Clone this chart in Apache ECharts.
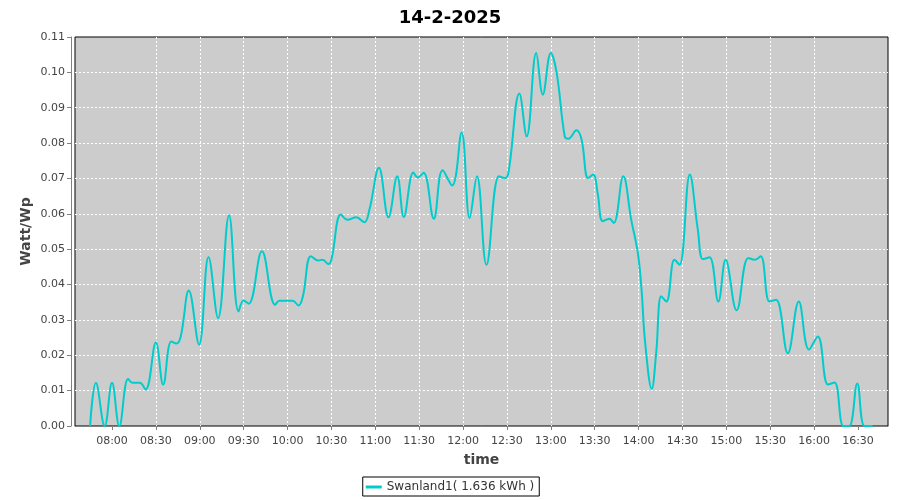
<!DOCTYPE html>
<html><head><meta charset="utf-8">
<script src="https://cdn.jsdelivr.net/npm/echarts@6/dist/echarts.min.js"></script>
<style>html,body{margin:0;padding:0;background:#fff}#c{width:900px;height:500px}</style>
</head><body><div id="c"></div>
<script>
// minutes after midnight
const times = [465,469,475,480,485,491,494,499,503,510,515,520.5,524,527,532.5,539.5,546,552.5,560,566.5,570,573.5,582.5,591.5,594.5,603.5,607.5,610.5,616,621,624,628,630,636.5,641,647,652.5,656,662.5,669,675,679.5,686,689,693,700,706,712.5,719,724.5,729.5,736,744.5,748.5,751,758.5,763.5,770,774.5,780,784,789.5,792,797.5,801,805.5,809,812,815.5,820,823,829.5,835,839.5,842,844.5,849,852,855.5,859,864.5,868,875,880.5,884,888.5,894.5,899.5,907,915,919.5,923.5,929.5,934,942,949.5,956.5,962.5,969.5,974,980,984,989.5,994.5,1000];
const values = [0,0.0122,0,0.0122,0,0.0133,0.0122,0.0122,0.0103,0.0236,0.0117,0.0239,0.0233,0.0253,0.0383,0.0230,0.0478,0.0305,0.0596,0.0324,0.0355,0.0346,0.0494,0.0343,0.0354,0.0354,0.0341,0.0367,0.0480,0.0468,0.0470,0.0458,0.0470,0.0598,0.0583,0.0590,0.0576,0.0612,0.0730,0.0590,0.0706,0.0591,0.0717,0.0703,0.0716,0.0586,0.0723,0.0680,0.0830,0.0588,0.0706,0.0456,0.0706,0.0701,0.0716,0.0940,0.0819,0.1055,0.0937,0.1055,0.0998,0.0819,0.0812,0.0836,0.0810,0.0701,0.0711,0.0659,0.0579,0.0586,0.0574,0.0706,0.0582,0.0489,0.0386,0.0235,0.0105,0.0206,0.0367,0.0352,0.0470,0.0456,0.0711,0.0555,0.0472,0.0477,0.0352,0.0470,0.0327,0.0475,0.0470,0.0480,0.0352,0.0357,0.0206,0.0352,0.0216,0.0253,0.0117,0.0123,0,0,0.0120,0,0];
const tickLabels = ['08:00','08:30','09:00','09:30','10:00','10:30','11:00','11:30','12:00','12:30','13:00','13:30','14:00','14:30','15:00','15:30','16:00','16:30'];
const seriesName = 'Swanland1( 1.636 kWh )';
const titleText = '14-2-2025';

const toMin = s => { const [h,m] = s.split(':').map(Number); return h*60+m; };
const pad = n => (n<10?'0':'')+n;
const fmt = v => pad(Math.floor(v/60))+':'+pad(Math.round(v%60));
const tickMins = tickLabels.map(toMin);
const data = times.map((t,i)=>[t, values[i]]);
const font = 'DejaVu Sans';

const chart = echarts.init(document.getElementById('c'), null, {renderer:'canvas'});
chart.setOption({
  animation:false,
  backgroundColor:'#ffffff',
  title:{text:titleText,left:'center',top:4,textStyle:{fontFamily:font,fontSize:18,fontWeight:'bold',color:'#000'}},
  grid:{left:75,top:37,right:12,bottom:74,show:true,backgroundColor:'#cccccc',borderColor:'#000',borderWidth:1},
  legend:{data:[{name:seriesName,icon:'rect'}],left:'center',top:477,itemWidth:16,itemHeight:3,itemGap:4,
    padding:[4,5,3,3],borderColor:'#000',borderWidth:1,
    textStyle:{fontFamily:font,fontSize:12,color:'#333'}},
  xAxis:{type:'value',min:454.7,max:1010.5,offset:4,
    name:'time',nameLocation:'middle',nameGap:23,nameMoveOverlap:false,nameTextStyle:{fontFamily:font,fontSize:14,fontWeight:'bold',color:'#444'},
    axisLine:{show:true,lineStyle:{color:'#808080'}},
    axisTick:{show:true,length:4,lineStyle:{color:'#808080'},customValues:tickMins},
    axisLabel:{customValues:tickMins,formatter:v=>fmt(v),fontFamily:font,fontSize:11,color:'#444',margin:6},
    splitLine:{show:true,showMinLine:false,showMaxLine:false,lineStyle:{color:'#ffffff',type:[2,2],width:1}}
  },
  yAxis:{type:'value',min:0,max:0.11,interval:0.01,offset:4,
    name:'Watt/Wp',nameLocation:'middle',nameRotate:90,nameGap:38,nameMoveOverlap:false,nameTextStyle:{fontFamily:font,fontSize:14,fontWeight:'bold',color:'#444'},
    axisLine:{show:true,lineStyle:{color:'#808080'}},
    axisTick:{show:true,length:4,lineStyle:{color:'#808080'}},
    axisLabel:{formatter:v=>v.toFixed(2),fontFamily:font,fontSize:11,color:'#444',margin:6},
    splitLine:{show:true,showMinLine:false,showMaxLine:false,lineStyle:{color:'#ffffff',type:[2,2],width:1}}
  },
  series:[{name:seriesName,type:'line',data:data,showSymbol:false,smooth:0.4,
    lineStyle:{color:'#00cccc',width:2},itemStyle:{color:'#00cccc'}}]
});
</script></body></html>
